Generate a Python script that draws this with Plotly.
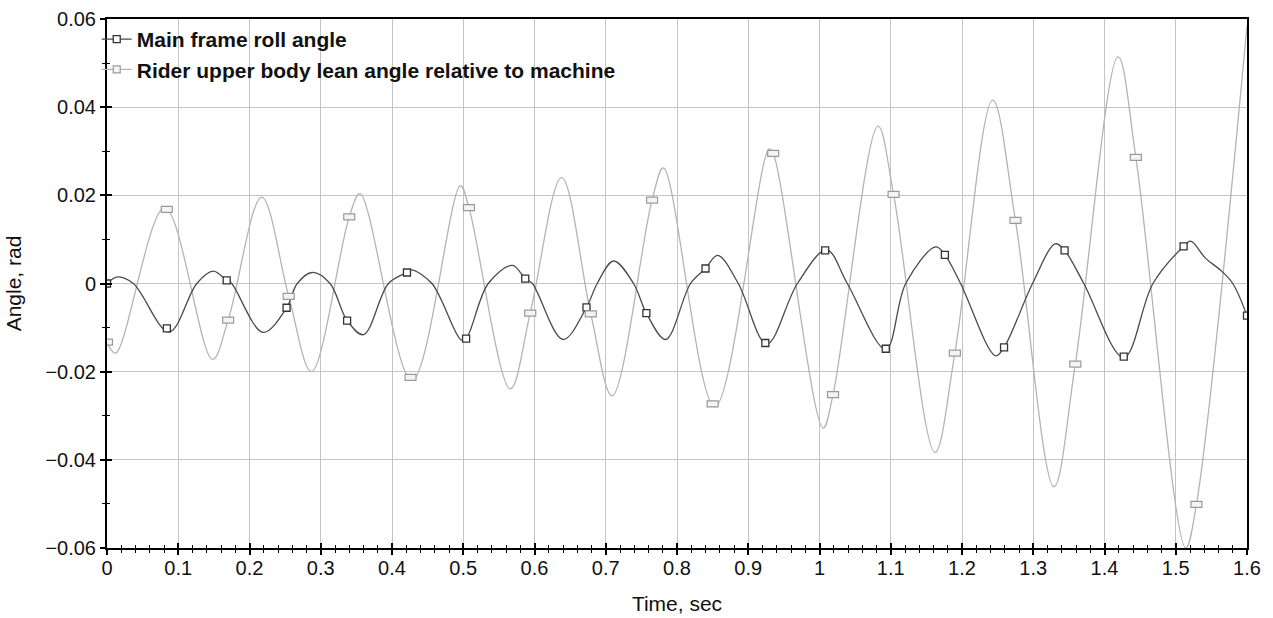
import plotly.graph_objects as go

# ---------------- data ----------------
# Main frame roll angle: curve shape points (extremes / zero crossings)
main_t = [0.000, 0.015, 0.037, 0.087, 0.126, 0.149, 0.175, 0.219, 0.267, 0.288,
          0.313, 0.360, 0.395, 0.427, 0.456, 0.497, 0.535, 0.569, 0.597, 0.640,
          0.688, 0.711, 0.739, 0.784, 0.819, 0.857, 0.886, 0.926, 0.969, 1.010,
          1.039, 1.093, 1.121, 1.163, 1.198, 1.247, 1.299, 1.331, 1.371, 1.427,
          1.468, 1.521, 1.542, 1.563, 1.580, 1.600]
main_v = [0.0000, 0.0015, 0.0000, -0.0110, 0.0000, 0.0028, 0.0000, -0.0111, 0.0000, 0.0025,
          0.0000, -0.0116, 0.0000, 0.0031, 0.0000, -0.0128, 0.0000, 0.0041, 0.0000, -0.0127,
          0.0000, 0.0051, 0.0000, -0.0127, 0.0000, 0.0064, 0.0000, -0.0137, 0.0000, 0.0076,
          0.0000, -0.0149, 0.0000, 0.0083, 0.0000, -0.0164, 0.0000, 0.0090, 0.0000, -0.0168,
          0.0000, 0.0096, 0.0057, 0.0030, 0.0000, -0.0073]
# Main frame roll angle: marker points
main_mk_t = [0.000, 0.084, 0.168, 0.252, 0.337, 0.421, 0.504, 0.587, 0.673, 0.757,
             0.840, 0.924, 1.008, 1.093, 1.176, 1.259, 1.344, 1.427, 1.511, 1.600]
main_mk_v = [0.0000, -0.0102, 0.0007, -0.0055, -0.0084, 0.0025, -0.0125, 0.0011, -0.0054, -0.0067,
             0.0034, -0.0135, 0.0075, -0.0148, 0.0065, -0.0145, 0.0075, -0.0166, 0.0084, -0.0073]

# Rider upper body lean angle relative to machine: curve shape points
rider_t = [0.000, 0.012, 0.081, 0.148, 0.217, 0.287, 0.355, 0.428, 0.496, 0.566,
           0.638, 0.709, 0.781, 0.853, 0.929, 1.005, 1.082, 1.162, 1.243, 1.329,
           1.419, 1.514, 1.600]
rider_v = [-0.0133, -0.0158, 0.0172, -0.0172, 0.0196, -0.0200, 0.0204, -0.0220, 0.0222, -0.0239,
           0.0240, -0.0255, 0.0262, -0.0280, 0.0305, -0.0328, 0.0357, -0.0383, 0.0416, -0.0461,
           0.0514, -0.0600, 0.0585]
# Rider: marker points
rider_mk_t = [0.000, 0.084, 0.170, 0.255, 0.340, 0.426, 0.508, 0.594, 0.679, 0.765,
              0.850, 0.935, 1.019, 1.104, 1.190, 1.275, 1.359, 1.444, 1.529]
rider_mk_v = [-0.0133, 0.0168, -0.0083, -0.0029, 0.0151, -0.0213, 0.0172, -0.0067, -0.0069, 0.0189,
              -0.0273, 0.0295, -0.0252, 0.0202, -0.0158, 0.0143, -0.0183, 0.0286, -0.0501]

series_names = ["Main frame roll angle", "Rider upper body lean angle relative to machine"]
x_range = [0, 1.6]
y_range = [-0.06, 0.06]

# ---------------- styling ----------------
FONT = "Liberation Sans, Arial, sans-serif"
MAIN_COLOR = "#4a4a4a"
RIDER_COLOR = "#b4b4b4"
RIDER_EDGE = "#9a9a9a"


def merged(ts, vs, mts, mvs, tol=0.006):
    pts = list(zip(ts, vs))
    for mt, mv in zip(mts, mvs):
        if all(abs(mt - t) > tol for t, _ in pts):
            pts.append((mt, mv))
    pts.sort()
    return [p[0] for p in pts], [p[1] for p in pts]


fig = go.Figure()

mx, my = merged(main_t, main_v, main_mk_t, main_mk_v)
rx, ry = merged(rider_t, rider_v, rider_mk_t, rider_mk_v)

fig.add_trace(go.Scatter(x=rx, y=ry, mode="lines", showlegend=False,
                         line=dict(color=RIDER_COLOR, width=1.3, shape="spline", smoothing=1.0),
                         hoverinfo="skip"))
fig.add_trace(go.Scatter(x=mx, y=my, mode="lines", showlegend=False,
                         line=dict(color=MAIN_COLOR, width=1.3, shape="spline", smoothing=1.0),
                         hoverinfo="skip"))
fig.add_trace(go.Scatter(x=main_mk_t, y=main_mk_v, mode="markers", showlegend=False,
                         marker=dict(symbol="square", size=7, color="white",
                                     line=dict(color="#333333", width=1.3))))

# rider markers: small white rectangles anchored at data points
for t, v in zip(rider_mk_t, rider_mk_v):
    fig.add_shape(type="rect", xref="x", yref="y",
                  xsizemode="pixel", ysizemode="pixel",
                  xanchor=t, yanchor=v, x0=-5.5, x1=5.5, y0=-3, y1=3,
                  line=dict(color=RIDER_EDGE, width=1.2), fillcolor="#f4f4f4",
                  layer="above")

# legend-only traces (on overlay axes)
fig.add_trace(go.Scatter(x=[None], y=[None], mode="lines+markers", name=series_names[0],
                         xaxis="x2", yaxis="y2",
                         line=dict(color=MAIN_COLOR, width=1.3),
                         marker=dict(symbol="square", size=7, color="white",
                                     line=dict(color="#333333", width=1.3))))
fig.add_trace(go.Scatter(x=[None], y=[None], mode="lines+markers", name=series_names[1],
                         xaxis="x2", yaxis="y2",
                         line=dict(color=RIDER_COLOR, width=1.3),
                         marker=dict(symbol="square", size=7, color="#f4f4f4",
                                     line=dict(color=RIDER_EDGE, width=1.2))))

axis_common = dict(showline=True, linecolor="black", linewidth=2, mirror=True,
                   gridcolor="#c4c4c4", gridwidth=1, zeroline=False, automargin=False,
                   ticks="outside", ticklen=5, tickwidth=1.5, tickcolor="black",
                   tickfont=dict(family=FONT, size=20, color="#111111"))

fig.update_layout(
    width=1273, height=618,
    margin=dict(l=107, r=26, t=19, b=70),
    paper_bgcolor="white", plot_bgcolor="white",
    font=dict(family=FONT, size=20, color="#111111"),
    xaxis=dict(range=x_range, dtick=0.1, tick0=0,
               title=dict(text="Time, sec", font=dict(family=FONT, size=21), standoff=18),
               minor=dict(dtick=0.02, ticks="outside", ticklen=3, tickwidth=1, tickcolor="black",
                          showgrid=False),
               ticklabelstandoff=-4,
               **axis_common),
    yaxis=dict(range=y_range, dtick=0.02, tick0=0,
               title=dict(text="Angle, rad", font=dict(family=FONT, size=21), standoff=18),
               minor=dict(dtick=0.01, ticks="outside", ticklen=3, tickwidth=1, tickcolor="black",
                          showgrid=False),
               ticklabelstandoff=0,
               **axis_common),
    xaxis2=dict(overlaying="x", anchor="y2", range=x_range, dtick=0.1, tick0=0,
                showgrid=False, zeroline=False, showline=False, showticklabels=False,
                automargin=False,
                ticks="inside", ticklen=5, tickwidth=1.5, tickcolor="black",
                minor=dict(dtick=0.02, ticks="inside", ticklen=3, tickwidth=1, tickcolor="black",
                           showgrid=False)),
    yaxis2=dict(overlaying="y", anchor="x2", range=y_range, dtick=0.02, tick0=0,
                showgrid=False, zeroline=False, showline=False, showticklabels=False,
                automargin=False,
                ticks="inside", ticklen=5, tickwidth=1.5, tickcolor="black",
                minor=dict(dtick=0.01, ticks="inside", ticklen=3, tickwidth=1, tickcolor="black",
                           showgrid=False)),
    legend=dict(x=-0.009, y=1.0, xanchor="left", yanchor="top",
                bgcolor="rgba(0,0,0,0)", borderwidth=0,
                font=dict(family=FONT, size=21, color="#111111", weight="bold"),
                tracegroupgap=0),
    showlegend=True,
)

fig.write_html("out.html")
